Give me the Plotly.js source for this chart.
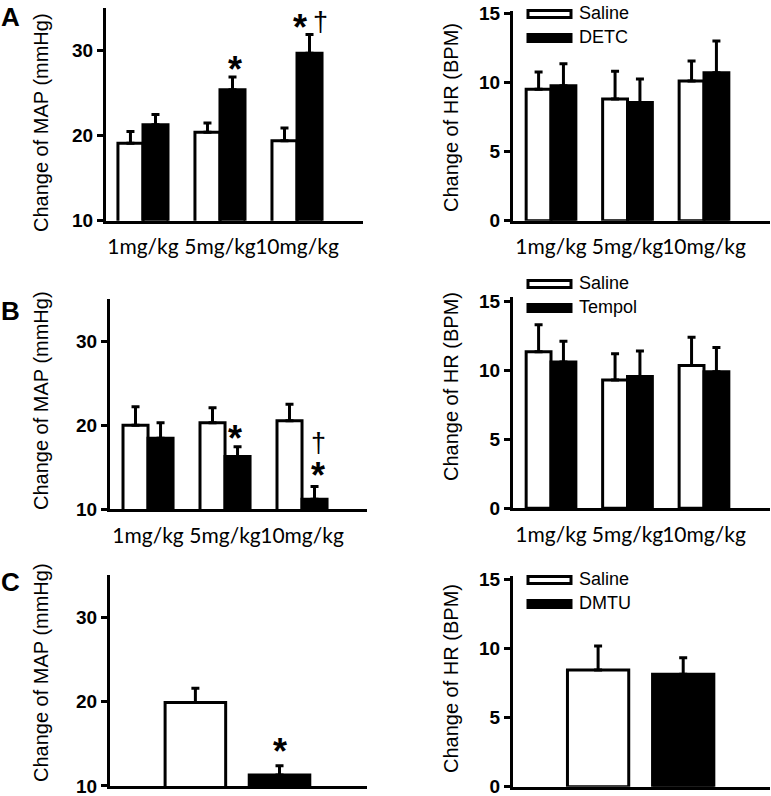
<!DOCTYPE html>
<html>
<head>
<meta charset="UTF-8">
<script src="https://cdn.plot.ly/plotly-3.0.1.min.js"></script>
<style>
  body { margin: 0; background: #fff; }
  #chart { width: 771px; height: 796px; }
</style>
</head>
<body>
<div id="chart"></div>
<script>
  const doses = ['1mg/kg', '5mg/kg', '10mg/kg'];

  // A: Saline vs DETC
  const mapSalineA = [19.1, 20.4, 19.4];
  const mapSalineAErr = [1.4, 1.1, 1.5];
  const mapDetc = [21.3, 25.4, 29.7];
  const mapDetcErr = [1.2, 1.5, 2.2];
  const hrSalineA = [9.5, 8.8, 10.1];
  const hrSalineAErr = [1.25, 2.0, 1.45];
  const hrDetc = [9.75, 8.55, 10.7];
  const hrDetcErr = [1.6, 1.7, 2.3];

  // B: Saline vs Tempol
  const mapSalineB = [20.0, 20.3, 20.55];
  const mapSalineBErr = [2.2, 1.8, 1.95];
  const mapTempol = [18.45, 16.3, 11.2];
  const mapTempolErr = [1.85, 1.15, 1.5];
  const hrSalineB = [11.35, 9.3, 10.35];
  const hrSalineBErr = [1.95, 1.9, 2.05];
  const hrTempol = [10.6, 9.55, 9.9];
  const hrTempolErr = [1.5, 1.85, 1.75];

  // C: Saline vs DMTU (single dose)
  const groupsC = ['Saline', 'DMTU'];
  const mapC = [19.9, 11.3];
  const mapCErr = [1.7, 1.1];
  const hrC = [8.45, 8.15];
  const hrCErr = [1.75, 1.2];

  const W = 771, H = 796;
  const xdom = (l, r) => [l / W, r / W];
  const ydom = (top, bottom) => [1 - bottom / H, 1 - top / H];
  const ARIAL = 'Liberation Sans, Arial, sans-serif';

  function bars(x, y, err, fill, xa, ya, extra) {
    return Object.assign({
      type: 'bar', x: x, y: y, xaxis: xa, yaxis: ya,
      marker: { color: fill, line: { color: '#000', width: 3 } },
      error_y: { type: 'data', symmetric: false, array: err, arrayminus: err.map(() => 0),
                 color: '#000', thickness: 3, width: 4 },
      showlegend: false, hoverinfo: 'skip'
    }, extra || {});
  }

  const cWidth = { width: 0.72, offset: -0.36 };

  const data = [
    bars(doses, mapSalineA, mapSalineAErr, '#fff', 'x', 'y'),
    bars(doses, mapDetc, mapDetcErr, '#000', 'x', 'y'),
    bars(doses, hrSalineA, hrSalineAErr, '#fff', 'x2', 'y2'),
    bars(doses, hrDetc, hrDetcErr, '#000', 'x2', 'y2'),
    bars(doses, mapSalineB, mapSalineBErr, '#fff', 'x3', 'y3'),
    bars(doses, mapTempol, mapTempolErr, '#000', 'x3', 'y3'),
    bars(doses, hrSalineB, hrSalineBErr, '#fff', 'x4', 'y4'),
    bars(doses, hrTempol, hrTempolErr, '#000', 'x4', 'y4'),
    bars([groupsC[0]], [mapC[0]], [mapCErr[0]], '#fff', 'x5', 'y5', cWidth),
    bars([groupsC[1]], [mapC[1]], [mapCErr[1]], '#000', 'x5', 'y5', cWidth),
    bars([groupsC[0]], [hrC[0]], [hrCErr[0]], '#fff', 'x6', 'y6', cWidth),
    bars([groupsC[1]], [hrC[1]], [hrCErr[1]], '#000', 'x6', 'y6', cWidth)
  ];

  function xAxis(dom, range, anchor, labels) {
    return {
      domain: dom, range: range, anchor: anchor, type: 'category',
      showline: true, linewidth: 3, linecolor: '#000', ticks: '',
      showgrid: false, zeroline: false, showticklabels: labels,
      tickangle: 0,
      tickfont: { family: 'Lato, sans-serif', size: 21, color: '#000' },
      ticklabelstandoff: 5, fixedrange: true
    };
  }
  function yAxis(dom, range, ticks, anchor) {
    return {
      domain: dom, range: range, anchor: anchor, tickvals: ticks,
      showline: true, linewidth: 3, linecolor: '#000',
      ticks: 'outside', ticklen: 6, tickwidth: 3, tickcolor: '#000',
      showgrid: false, zeroline: false, ticklabeloverflow: 'allow',
      tickfont: { family: ARIAL, size: 19, color: '#000', weight: 'bold' },
      fixedrange: true
    };
  }

  const ann = [];
  function text(x, y, t, size, extra) {
    ann.push(Object.assign({
      xref: 'paper', yref: 'paper', x: x / W, y: 1 - y / H, text: t, showarrow: false,
      xanchor: 'center', yanchor: 'middle',
      font: { family: ARIAL, size: size, color: '#000' }
    }, extra || {}));
  }
  // panel letters
  text(10, 17, '<b>A</b>', 26);
  text(10, 311, '<b>B</b>', 26);
  text(10, 582, '<b>C</b>', 26);
  // axis titles
  text(41, 123, 'Change of MAP (mmHg)', 20, { textangle: -90 });
  text(451, 118, 'Change of HR (BPM)', 20, { textangle: -90 });
  text(41, 401, 'Change of MAP (mmHg)', 20, { textangle: -90 });
  text(451, 387, 'Change of HR (BPM)', 20, { textangle: -90 });
  text(41, 673, 'Change of MAP (mmHg)', 20, { textangle: -90 });
  text(451, 679, 'Change of HR (BPM)', 20, { textangle: -90 });

  // significance marks, placed above the error bar tops
  function mark(xa, ya, x, y, shift, t, size, bold) {
    ann.push({
      xref: xa, yref: ya, x: x, y: y, yshift: shift, text: bold ? '<b>' + t + '</b>' : t,
      showarrow: false, xanchor: 'center', yanchor: 'middle',
      font: { family: ARIAL, size: size, color: '#000' }
    });
  }
  mark('x', 'y', 1.2, mapDetc[1] + mapDetcErr[1], 8, '*', 36, true);
  mark('x', 'y', 2.04, mapDetc[2] + mapDetcErr[2], 7, '*', 36, true);
  mark('x', 'y', 2.3, mapDetc[2] + mapDetcErr[2], 13, '†', 27, false);
  mark('x3', 'y3', 1.13, mapTempol[1] + mapTempolErr[1], 8, '*', 36, true);
  mark('x3', 'y3', 2.21, mapTempol[2] + mapTempolErr[2], 11, '*', 36, true);
  mark('x3', 'y3', 2.21, mapTempol[2] + mapTempolErr[2], 44, '†', 27, false);
  mark('x5', 'y5', 1.0, mapC[1] + mapCErr[1], 14, '*', 36, true);

  // hand-drawn legends (wide flat swatches)
  const shapes = [];
  function legend(top, labels) {
    labels.forEach((lab, i) => {
      const yc = top + i * 24;
      shapes.push({
        type: 'rect', xref: 'paper', yref: 'paper',
        x0: 528 / W, x1: 571 / W, y0: 1 - (yc + 3.5) / H, y1: 1 - (yc - 3.5) / H,
        fillcolor: i === 0 ? '#fff' : '#000', line: { color: '#000', width: 3 }
      });
      text(577, yc - 1, lab, 18, { xanchor: 'left' });
    });
  }
  legend(14, ['Saline', 'DETC']);
  legend(284, ['Saline', 'Tempol']);
  legend(580, ['Saline', 'DMTU']);

  const layout = {
    width: W, height: H,
    margin: { l: 0, r: 0, t: 0, b: 0 },
    paper_bgcolor: '#fff', plot_bgcolor: 'rgba(0,0,0,0)',
    barmode: 'group', bargap: 0.35, bargroupgap: 0,
    showlegend: false,
    xaxis: xAxis(xdom(106, 363), [-0.48, 2.857], 'y', true),
    yaxis: yAxis(ydom(8.2, 220.7), [10, 35], [10, 20, 30], 'x'),
    xaxis2: xAxis(xdom(513, 770), [-0.497, 2.863], 'y2', true),
    yaxis2: yAxis(ydom(10.5, 220.7), [0, 15.2], [0, 5, 10, 15], 'x2'),
    xaxis3: xAxis(xdom(110, 367), [-0.494, 2.844], 'y3', true),
    yaxis3: yAxis(ydom(299.3, 509.3), [10, 35], [10, 20, 30], 'x3'),
    xaxis4: xAxis(xdom(513, 770), [-0.497, 2.863], 'y4', true),
    yaxis4: yAxis(ydom(297.2, 508.3), [0, 15.3], [0, 5, 10, 15], 'x4'),
    xaxis5: xAxis(xdom(110, 367), [-1.015, 2.04], 'y5', false),
    yaxis5: yAxis(ydom(575.3, 786), [9.995, 35], [10, 20, 30], 'x5'),
    xaxis6: xAxis(xdom(513, 770), [-1.0, 2.02], 'y6', false),
    yaxis6: yAxis(ydom(575.6, 786.7), [-0.003, 15.3], [0, 5, 10, 15], 'x6'),
    annotations: ann,
    shapes: shapes
  };

  Plotly.newPlot('chart', data, layout, { staticPlot: true });
</script>
</body>
</html>
